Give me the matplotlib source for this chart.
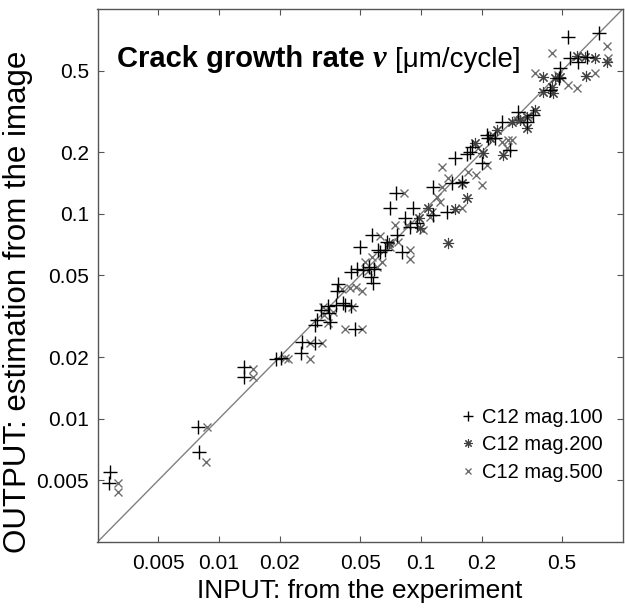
import matplotlib
matplotlib.use("Agg")
import matplotlib.pyplot as plt
from matplotlib.offsetbox import TextArea, HPacker, AnchoredOffsetbox

plt.rcParams["font.family"] = ["Liberation Sans", "DejaVu Sans"]

# C12 mag.100  (+)
in_100 = [0.00288, 0.00284, 0.00785, 0.00794, 0.0133, 0.0133, 0.0191, 0.0202,
          0.0257, 0.0254, 0.0299, 0.0299, 0.0305, 0.0320, 0.0350, 0.0354,
          0.0346, 0.0379, 0.0420, 0.0450, 0.0411, 0.0471, 0.0388, 0.0384,
          0.0450, 0.0482, 0.0516, 0.0553, 0.0585, 0.0565, 0.0578, 0.0499,
          0.0572, 0.0627, 0.0679, 0.0761, 0.0612, 0.0663, 0.0805, 0.0702,
          0.0833, 0.0913, 0.0752, 0.135, 0.115, 0.0882, 0.0956, 0.115,
          0.143, 0.160, 0.148, 0.175, 0.201, 0.213, 0.303, 0.359, 0.335,
          0.252, 0.215, 0.233, 0.276, 0.179, 0.169, 0.436, 0.536, 0.763,
          0.548, 0.600, 0.665, 0.489, 0.483]
out_100 = [0.00549, 0.00486, 0.00911, 0.00688, 0.0179, 0.0160, 0.0196, 0.0198,
           0.0237, 0.0209, 0.0234, 0.0287, 0.0303, 0.0339, 0.0328, 0.0297,
           0.0355, 0.0359, 0.0359, 0.0355, 0.0367, 0.0274, 0.0455, 0.0420,
           0.0520, 0.0538, 0.0532, 0.0550, 0.0538, 0.0492, 0.0460, 0.0689,
           0.0789, 0.0651, 0.0729, 0.0789, 0.0666, 0.0666, 0.0651, 0.107,
           0.0954, 0.107, 0.126, 0.102, 0.0987, 0.0863, 0.0902, 0.135,
           0.141, 0.143, 0.187, 0.200, 0.177, 0.243, 0.314, 0.304, 0.281,
           0.281, 0.235, 0.235, 0.205, 0.212, 0.196, 0.402, 0.730, 0.764,
           0.577, 0.551, 0.583, 0.515, 0.461]

# C12 mag.200  (*)
in_200 = [0.185, 0.203, 0.160, 0.169, 0.108, 0.148, 0.0978, 0.0989, 0.136,
          0.0694, 0.403, 0.462, 0.446, 0.403, 0.451, 0.368, 0.335, 0.310,
          0.283, 0.335, 0.238, 0.220, 0.255, 0.593, 0.650, 0.729, 0.836,
          0.489, 0.658]
out_200 = [0.222, 0.198, 0.141, 0.120, 0.107, 0.106, 0.0954, 0.0853, 0.0721,
           0.0721, 0.466, 0.461, 0.416, 0.394, 0.389, 0.321, 0.297, 0.287,
           0.281, 0.263, 0.257, 0.235, 0.194, 0.590, 0.583, 0.577, 0.551,
           0.466, 0.471]

# C12 mag.500  (x)
in_500 = [0.00315, 0.00315, 0.0087, 0.0086, 0.0147, 0.0147, 0.0212, 0.0219,
          0.0282, 0.0323, 0.0282, 0.0331, 0.0346, 0.0366, 0.0420, 0.0510,
          0.0406, 0.0445, 0.0476, 0.0510, 0.0455, 0.0327, 0.0546, 0.0606,
          0.0641, 0.0627, 0.0769, 0.0702, 0.0853, 0.0882, 0.0882, 0.192,
          0.127, 0.136, 0.171, 0.187, 0.201, 0.127, 0.120, 0.124, 0.0824,
          0.160, 0.113, 0.111, 0.102, 0.368, 0.478, 0.317, 0.299, 0.339,
          0.228, 0.252, 0.270, 0.283, 0.267, 0.213, 0.446, 0.836, 0.845,
          0.536, 0.593, 0.729, 0.0744, 0.0528, 0.0572]
out_500 = [0.00486, 0.00439, 0.00911, 0.00615, 0.0175, 0.0160, 0.0198, 0.0196,
           0.0234, 0.0234, 0.0196, 0.0321, 0.0293, 0.0332, 0.0274, 0.0274,
           0.0430, 0.0435, 0.0440, 0.0420, 0.0351, 0.0351, 0.0526, 0.0550,
           0.0582, 0.0780, 0.0729, 0.0689, 0.0882, 0.0602, 0.0666, 0.210,
           0.169, 0.150, 0.160, 0.155, 0.138, 0.135, 0.121, 0.114, 0.126,
           0.107, 0.102, 0.0965, 0.0834, 0.487, 0.476, 0.290, 0.287, 0.304,
           0.243, 0.224, 0.229, 0.229, 0.210, 0.173, 0.610, 0.660, 0.577,
           0.426, 0.412, 0.487, 0.0882, 0.0582, 0.0616]

tick_vals = [0.005, 0.01, 0.02, 0.05, 0.1, 0.2, 0.5]
tick_labels = ["0.005", "0.01", "0.02", "0.05", "0.1", "0.2", "0.5"]
lims = [0.0025, 1.0]

fig = plt.figure(figsize=(6.25, 6.15), dpi=100)
ax = fig.add_axes([0.156, 0.1187, 0.8405, 0.8667])
ax.set_xscale("log")
ax.set_yscale("log")

# identity line
ax.plot(lims, lims, color="#808080", lw=1.0, zorder=1)

h500, = ax.plot(in_500, out_500, "x", color="#6e6e6e", ms=5.5, mew=1.0,
                label="C12 mag.500", zorder=2)
h200, = ax.plot(in_200, out_200, marker=(8, 2, 0), ls="none", color="#404040",
                ms=8, mew=0.8, label="C12 mag.200", zorder=3)
h100, = ax.plot(in_100, out_100, "+", color="black", ms=10, mew=1.0,
                label="C12 mag.100", zorder=4)

ax.set_xlim(lims)
ax.set_ylim(lims)
ax.set_xticks(tick_vals)
ax.set_xticklabels(tick_labels)
ax.set_yticks(tick_vals)
ax.set_yticklabels(tick_labels)
ax.minorticks_off()
ax.tick_params(direction="in", length=4, width=0.8, color="#555555",
               top=True, right=True, labelsize=15)
ax.tick_params(axis="x", pad=9)
ax.tick_params(axis="y", pad=6)
for s in ax.spines.values():
    s.set_color("#555555")
    s.set_linewidth(1.0)

ax.set_xlabel("INPUT: from the experiment", fontsize=19, labelpad=4)
ax.set_ylabel("OUTPUT: estimation from the image", fontsize=22.5)
ax.yaxis.set_label_coords(-0.122, 0.45)

ax.legend(handles=[h100, h200, h500], loc="upper left",
          bbox_to_anchor=(0.69, 0.252), frameon=False, fontsize=14.5,
          handlelength=0.8, handletextpad=0.3, labelspacing=0.42,
          borderpad=0, borderaxespad=0, markerscale=0.75)

# title inside the axes
t1 = TextArea("Crack growth rate", textprops=dict(fontsize=21, fontweight="bold"))
t2 = TextArea("ν", textprops=dict(fontsize=22, fontweight="bold", fontstyle="italic",
                                  family="Liberation Serif"))
t3 = TextArea("[μm/cycle]", textprops=dict(fontsize=20))
box = HPacker(children=[t1, t2, t3], align="baseline", pad=0, sep=6)
anch = AnchoredOffsetbox(loc="upper left", child=box, frameon=False, pad=0,
                         borderpad=0, bbox_to_anchor=(0.037, 0.932),
                         bbox_transform=ax.transAxes)
ax.add_artist(anch)

fig.savefig("out.png", dpi=100)
